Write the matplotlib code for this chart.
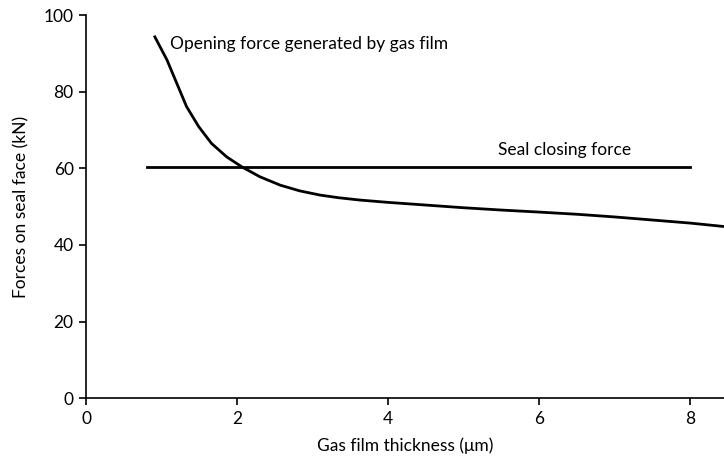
import numpy as np
import matplotlib.pyplot as plt

# values
thickness = [0.91, 1.07, 1.20, 1.33, 1.49, 1.66, 1.86, 2.06, 2.30, 2.57, 2.83, 3.10, 3.35,
             3.63, 4.0, 4.5, 5.0, 5.5, 5.97, 6.5, 7.0, 7.5, 8.0, 8.45]
opening_force = [94.3, 88.3, 82.2, 76.1, 70.9, 66.5, 63.0, 60.4, 57.8, 55.6, 54.1, 53.0, 52.3,
                 51.7, 51.1, 50.4, 49.7, 49.1, 48.6, 48.0, 47.3, 46.5, 45.7, 44.8]
closing_x = [0.81, 8.0]
closing_force = [60.4, 60.4]

plt.rcParams['font.family'] = ['Lato', 'DejaVu Sans']

fig = plt.figure(figsize=(7.24, 4.69), dpi=100)
ax = fig.add_axes([0.119, 0.151, 0.881, 0.817])

ax.plot(thickness, opening_force, color='black', lw=2.0, solid_joinstyle='round')
ax.plot(closing_x, closing_force, color='black', lw=2.0)

ax.text(1.11, 92.5, 'Opening force generated by gas film', fontsize=12.5, va='center')
ax.text(5.46, 64.8, 'Seal closing force', fontsize=12.5, va='center')

ax.set_xlim(0, 8.45)
ax.set_ylim(0, 100)
ax.set_xticks([0, 2, 4, 6, 8])
ax.set_yticks([0, 20, 40, 60, 80, 100])
for s in ['top', 'right']:
    ax.spines[s].set_visible(False)
for s in ['left', 'bottom']:
    ax.spines[s].set_linewidth(1.2)
ax.tick_params(direction='out', length=5, width=1.2, labelsize=12.5, pad=4)
ax.set_xlabel('Gas film thickness (μm)', fontsize=12.5, labelpad=8)
ax.set_ylabel('Forces on seal face (kN)', fontsize=12.5, labelpad=10)

fig.savefig('out.png', dpi=100)
